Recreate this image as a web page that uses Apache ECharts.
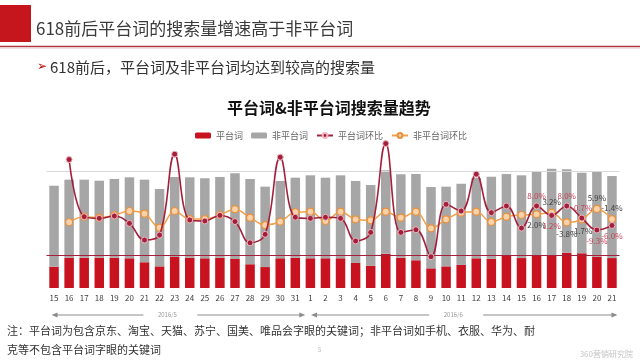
<!DOCTYPE html>
<html><head><meta charset="utf-8">
<script src="https://cdn.jsdelivr.net/npm/echarts@6/dist/echarts.min.js"></script>
<style>html,body{margin:0;padding:0;background:#fff}#c{width:640px;height:360px}</style>
</head><body><div id="c"></div>
<script>
// ---- data ----
const categories = ['15','16','17','18','19','20','21','22','23','24','25','26','27','28','29','30','31',
  '1','2','3','4','5','6','7','8','9','10','11','12','13','14','15','16','17','18','19','20','21'];
const monthLabels = ['2016/5', '2016/6'];
const seriesNames = ['平台词', '非平台词', '平台词环比', '非平台词环比'];
const platformVol = [18.2,25.9,25.9,25.9,25.9,25.4,22.0,18.5,26.5,25.9,25.4,25.9,24.8,20.3,17.9,25.4,25.9,
  25.4,25.4,25.4,21.4,19.1,29.3,25.9,23.7,16.8,18.5,19.7,25.4,25.0,27.4,25.6,27.4,27.4,30.2,29.7,26.8,25.6];
const nonPlatformVol = [69.2,66.7,66.7,65.8,67.3,69.2,70.6,66.1,68.4,68.7,68.4,69.0,73.2,72.9,68.7,66.1,68.4,
  70.9,68.9,70.9,70.1,68.9,71.3,71.3,73.7,69.5,68.1,69.4,68.6,70.1,70.0,70.7,72.3,74.6,71.3,68.8,72.9,70.1];
const platformMoM = [null,41.4,0.3,-0.9,0.8,-4.5,-16.5,-12.9,45.3,-2.1,-2.8,1.2,-3.2,-18.5,-12.4,43.1,-0.1,
  -0.9,-0.1,-0.9,-17.2,-11.0,52.9,-11.0,-9.1,-28.5,9.2,4.4,30.9,3.2,8.0,-7.9,8.0,1.2,8.0,-0.7,-9.3,-6.0];
const nonPlatformMoM = [null,-3.7,0.3,-0.4,1.3,4.4,2.5,-7.6,4.4,-1.4,-1.4,1.5,5.7,-0.4,-5.7,-3.3,3.5,
  3.9,-2.8,3.9,-1.6,-2.3,3.9,-0.4,3.9,-8.1,-1.6,3.2,3.9,-3.5,0.3,1.5,2.0,3.2,-3.8,-1.7,5.9,-1.4];
const labelFromIndex = 32; // last six days are labelled
const platformLabelPos = ['top','bottom','top','top','bottom','bottom'];
const nonPlatformLabelPos = ['bottom','top','bottom','bottom','top','top'];
const footnote1 = '注：平台词为包含京东、淘宝、天猫、苏宁、国美、唯品会字眼的关键词；非平台词如手机、衣服、华为、耐';
const footnote2 = '克等不包含平台词字眼的关键词';

const FONT = '"Noto Sans CJK SC","Noto Sans",sans-serif';
const RED_BAR = '#c8121f', GRAY_BAR = '#a6a6a6', RED_LINE = '#a3203c', ORANGE_LINE = '#f0a04b';

function lineData(vals, posArr, color) {
  return vals.map((v, i) => {
    if (i < labelFromIndex || v == null) return v;
    const p = posArr[i - labelFromIndex];
    return {value: v, label: {show: true, position: p, distance: 3, color: color, fontSize: 8,
      fontFamily: FONT, formatter: (d) => d.value.toFixed(1) + '%'}};
  });
}

const chart = echarts.init(document.getElementById('c'), null, {renderer: 'canvas'});
chart.setOption({
  animation: false,
  backgroundColor: '#fff',
  textStyle: {fontFamily: FONT},
  title: {text: '平台词&非平台词搜索量趋势', left: 222, top: 95,
    textStyle: {fontSize: 16, fontWeight: 'bold', color: '#111', fontFamily: FONT}},
  legend: {data: seriesNames, left: 190, top: 126, itemWidth: 16, itemHeight: 6, itemGap: 8,
    textStyle: {fontSize: 9, color: '#666', fontFamily: FONT}},
  grid: {left: 46.5, right: 20.5, top: 147.6, bottom: 72},
  xAxis: {type: 'category', data: categories, axisLine: {show: false}, axisTick: {show: false},
    axisLabel: {fontSize: 8, color: '#404040', margin: 6, interval: 0, fontFamily: FONT}},
  yAxis: [
    {type: 'value', min: 0, max: 120, show: false, splitLine: {show: false}},
    {type: 'value', min: -51, max: 50, show: false, splitLine: {show: false}}
  ],
  series: [
    {name: seriesNames[0], type: 'bar', stack: 'v', data: platformVol, barWidth: '63%',
      itemStyle: {color: RED_BAR}, z: 2,
      markLine: {silent: true, symbol: 'none', label: {show: false},
        data: [{yAxis: 100, lineStyle: {color: '#d9d9d9', width: 1.2, type: 'solid'}},
               {yAxis: 28.2, lineStyle: {color: '#a3203c', width: 1, type: 'solid'}}]}},
    {name: seriesNames[1], type: 'bar', stack: 'v', data: nonPlatformVol, barWidth: '63%',
      itemStyle: {color: GRAY_BAR}, z: 2},
    {name: seriesNames[2], type: 'line', yAxisIndex: 1, smooth: 0.4, clip: false, z: 5,
      data: lineData(platformMoM, platformLabelPos, '#c8435a'),
      symbol: 'circle', symbolSize: 6,
      lineStyle: {color: RED_LINE, width: 1.6},
      itemStyle: {color: RED_LINE, borderColor: '#f0b8c0', borderWidth: 1}},
    {name: seriesNames[3], type: 'line', yAxisIndex: 1, smooth: 0.4, clip: false, z: 4,
      data: lineData(nonPlatformMoM, nonPlatformLabelPos, '#404040'),
      symbol: 'circle', symbolSize: 7,
      lineStyle: {color: ORANGE_LINE, width: 1.5},
      itemStyle: {color: '#f9d2ac', borderColor: '#e8923c', borderWidth: 1.2}}
  ]
});

// ---- decorations (header, footnote, month brackets) ----
const px = (i) => chart.convertToPixel({xAxisIndex: 0}, i);
const arrowY = 315;
const monthSpans = [[px(0) - 2.5, px(16) + 10], [px(17) + 0.6, px(37) + 5.5]];
const g = [
  {type: 'rect', shape: {x: 0, y: 5, width: 31, height: 37}, style: {fill: '#c4161c'}},
  {type: 'text', x: 36, y: 28.5, style: {text: '618前后平台词的搜索量增速高于非平台词', fontSize: 17,
    fontFamily: FONT, fill: '#3a3a3a', verticalAlign: 'middle'}},
  {type: 'line', shape: {x1: 0, y1: 46.5, x2: 640, y2: 46.5}, style: {stroke: '#b0343c', lineWidth: 1.5}},
  {type: 'line', shape: {x1: 0, y1: 48.3, x2: 640, y2: 48.3}, style: {stroke: '#eed8da', lineWidth: 1}},
  {type: 'text', x: 37, y: 67, style: {text: '➢', fontSize: 12, fill: '#c00000', verticalAlign: 'middle',
    fontFamily: '"DejaVu Sans",sans-serif'}},
  {type: 'text', x: 50, y: 67, style: {text: '618前后，平台词及非平台词均达到较高的搜索量', fontSize: 15,
    fontFamily: FONT, fill: '#333', verticalAlign: 'middle'}},
  {type: 'text', x: 7, y: 331, style: {text: footnote1, fontSize: 11, fontFamily: FONT, fill: '#333', verticalAlign: 'middle'}},
  {type: 'text', x: 7, y: 350, style: {text: footnote2, fontSize: 11, fontFamily: FONT, fill: '#333', verticalAlign: 'middle'}},
  {type: 'text', x: 318, y: 350, style: {text: '5', fontSize: 6, fontFamily: FONT, fill: '#bbb', verticalAlign: 'middle'}},
  {type: 'text', x: 633, y: 354, style: {text: '360营销研究院', fontSize: 8, fontFamily: FONT, fill: '#c4c4c4',
    align: 'right', verticalAlign: 'middle'}}
];
monthSpans.forEach((s, k) => {
  const a = s[0], b = s[1], c = (a + b) / 2 - 8;
  const st = {stroke: '#8c8c8c', lineWidth: 1};
  g.push({type: 'line', shape: {x1: a + 4, y1: arrowY, x2: c - 27, y2: arrowY}, style: st});
  g.push({type: 'line', shape: {x1: c + 27, y1: arrowY, x2: b - 4, y2: arrowY}, style: st});
  g.push({type: 'polygon', shape: {points: [[a, arrowY], [a + 6, arrowY - 2.5], [a + 6, arrowY + 2.5]]}, style: {fill: '#8c8c8c'}});
  g.push({type: 'polygon', shape: {points: [[b, arrowY], [b - 6, arrowY - 2.5], [b - 6, arrowY + 2.5]]}, style: {fill: '#8c8c8c'}});
  g.push({type: 'text', x: c - 3, y: arrowY, style: {text: monthLabels[k], fontSize: 6, fontFamily: FONT,
    fill: '#999', align: 'center', verticalAlign: 'middle'}});
});
chart.setOption({graphic: g});
</script></body></html>
